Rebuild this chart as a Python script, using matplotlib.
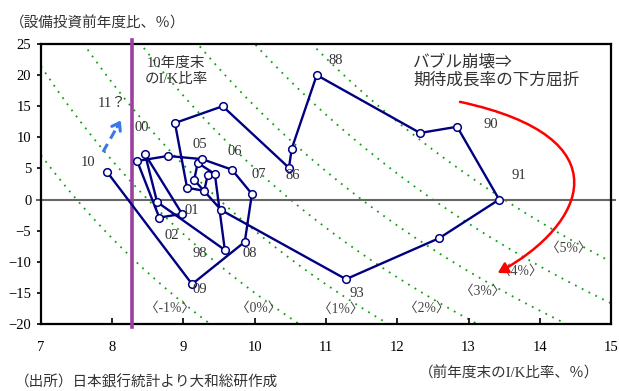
import numpy as np
import matplotlib
matplotlib.use("Agg")
import matplotlib.pyplot as plt
from matplotlib.path import Path
from matplotlib.patches import FancyArrowPatch

plt.rcParams['font.family'] = ['Liberation Serif', 'Noto Sans CJK JP']

# fiscal years 1981-2010
years = ['81', '82', '83', '84', '85', '86', '87', '88', '89', '90',
         '91', '92', '93', '94', '95', '96', '97', '98', '99', '00',
         '01', '02', '03', '04', '05', '06', '07', '08', '09', '10']
# previous fiscal year-end I/K ratio (%)
ik_ratio = [9.34, 9.29, 9.05, 8.88, 9.55, 10.48, 10.52, 10.87, 12.32, 12.84,
            13.43, 12.59, 11.28, 9.53, 9.15, 9.20, 9.44, 9.58, 8.63, 8.46,
            8.98, 8.66, 8.35, 8.78, 9.26, 9.68, 9.96, 9.86, 9.12, 7.93]
# capex growth, y/y (%)
capex = [3.9, 1.4, 1.9, 12.3, 15.0, 5.1, 8.2, 20.0, 10.7, 11.7,
         0.0, -6.2, -12.8, -1.7, 3.15, 5.9, 4.1, -8.1, -0.4, 7.3,
         -2.3, -2.9, 6.2, 7.0, 6.5, 4.8, 0.9, -6.8, -13.6, 4.4]

# expected growth lines
growth_rates = [-1, 0, 1, 2, 3, 4, 5]
depreciation = 8.5
ik_2010 = 8.28

fig = plt.figure(figsize=(6.19, 3.91), dpi=100)
ax = fig.add_axes([0.0662, 0.1714, 0.9209, 0.7161])

xs = np.linspace(7, 15, 300)
for g in growth_rates:
    ax.plot(xs, 100 * (g + depreciation) / xs - 100, color='#11a011',
            lw=1.3, ls=(0, (1, 3.2)), zorder=1)

ax.plot([6.95, 15.05], [0, 0], color='#666666', lw=1.5, zorder=2, clip_on=False)
ax.plot([ik_2010, ik_2010], [25.6, -20.5], color='#9b3fa0', lw=2.6, zorder=3,
        clip_on=False)

ax.plot(ik_ratio, capex, color='#000080', lw=1.7, marker='o', ms=5.5,
        mfc='white', mec='#000080', mew=1.1, zorder=5)

ax.set_xlim(7, 15)
ax.set_ylim(-20, 25)
ax.set_xticks(range(7, 16))
ax.set_yticks(range(-20, 26, 5))
for s in ax.spines.values():
    s.set_linewidth(1.6)
ax.tick_params(axis='x', direction='in', length=4, width=1.2, pad=12, labelsize=10.5)
ax.tick_params(axis='y', direction='out', length=3, width=1.2, pad=4, labelsize=10.5)

# year labels
year_labels = [('10', 7.66, 5.88), ('11？', 8.0, 15.4), ('00', 8.42, 11.5),
               ('05', 9.23, 8.8), ('06', 9.72, 7.65), ('07', 10.06, 4.1),
               ('86', 10.54, 3.8), ('88', 11.14, 22.3), ('90', 13.32, 12.0),
               ('91', 13.71, 3.8), ('93', 11.44, -15.1), ('01', 9.12, -1.8),
               ('02', 8.84, -5.7), ('98', 9.23, -8.6), ('08', 9.93, -8.6),
               ('09', 9.23, -14.5)]
for t, x, y in year_labels:
    ax.text(x, y, t, ha='center', va='center', fontsize=10.5, color='#333333',
            zorder=6)

pct_labels = [('〈-1%〉', 8.81, -17.5), ('〈0%〉', 10.05, -17.5),
              ('〈1%〉', 11.21, -17.6), ('〈2%〉', 12.42, -17.5),
              ('〈3%〉', 13.20, -14.7), ('〈4%〉', 13.72, -11.6),
              ('〈5%〉', 14.40, -7.8)]
for t, x, y in pct_labels:
    ax.text(x, y, t, ha='center', va='center', fontsize=9.8, color='#444444',
            zorder=6)

ax.text(8.9, 20.6, '10年度末\nのI/K比率', ha='center', va='center',
        fontsize=10.5, color='#333333', linespacing=1.25)
ax.text(12.22, 22.1, 'バブル崩壊⇒', ha='left', va='center', fontsize=12,
        color='#333333')
ax.text(12.22, 19.06, '期待成長率の下方屈折', ha='left', va='center',
        fontsize=12, color='#333333')

# blue dashed arrow
ax.plot([7.87, 8.08], [7.65, 11.9], color='#3a78e8', lw=2.2, ls=(0, (3, 2)),
        zorder=6)
ax.annotate('', xy=(8.14, 13.1), xytext=(8.05, 11.3),
            arrowprops=dict(arrowstyle='->,head_length=0.5,head_width=0.35',
                            color='#3a78e8', lw=2.2), zorder=6)

# red curved arrow
verts = [(12.88, 15.7), (15.2, 10.0), (14.65, -4.0), (13.41, -11.8)]
codes = [Path.MOVETO, Path.CURVE4, Path.CURVE4, Path.CURVE4]
arrow = FancyArrowPatch(path=Path(verts, codes),
                        arrowstyle='-|>,head_length=6,head_width=3.5',
                        color='#ff0000', lw=1.8, zorder=6)
ax.add_patch(arrow)

fig.text(0.016, 0.941, '（設備投資前年度比、％）', ha='left', va='center',
         fontsize=10.5, color='#333333')
fig.text(0.822, 0.0435, '（前年度末のI/K比率、％）', ha='center', va='center',
         fontsize=10.5, color='#333333')
fig.text(0.024, 0.003, '（出所）日本銀行統計より大和総研作成', ha='left',
         va='bottom', fontsize=10.5, color='#333333')

fig.savefig('out.png', dpi=100)
